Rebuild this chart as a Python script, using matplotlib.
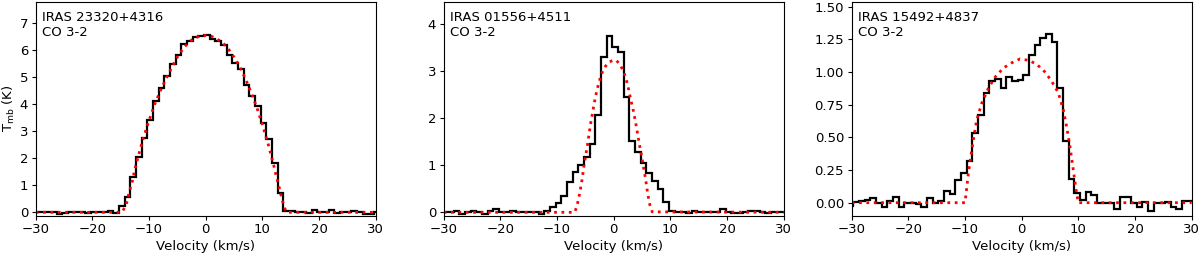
"""Three CO 3-2 spectra with shell-model fits, one panel per source."""

import matplotlib

matplotlib.use("Agg")

import matplotlib.pyplot as plt
import numpy as np
from matplotlib.ticker import MultipleLocator


SOURCES = ["IRAS 23320+4316", "IRAS 01556+4511", "IRAS 15492+4837"]
LINE_NAME = "CO 3-2"

# channel grid: 1 km/s channels, first edge per source
CHANNEL_START = [-30.3, -30.25, -30.7]
N_CHANNELS = 61

TMB_23320 = [
    0.01, 0.02, 0.02, 0.0, -0.05, -0.03, 0.02, 0.02, 0.0, -0.01,
    0.01, 0.01, 0.02, 0.04, -0.02,
    0.25, 0.56, 1.32, 2.06, 2.74, 3.40, 4.14, 4.62, 5.05, 5.48,
    5.83, 6.23, 6.36, 6.48, 6.53, 6.56, 6.42, 6.36, 6.20, 5.83,
    5.54, 5.30, 4.72, 4.31, 3.94, 3.32, 2.70, 1.84, 0.70,
    0.05, 0.03, 0.02, 0.0, -0.03, 0.10, 0.02, 0.02, 0.07, -0.03,
    0.01, 0.02, 0.04, 0.01, -0.07, -0.06, 0.0,
]
TMB_01556 = [
    0.01, 0.01, 0.035, -0.045, 0.0, 0.03, 0.0, -0.04, 0.03, 0.06,
    0.0, 0.0, 0.03, 0.0, 0.0, 0.0, 0.01, -0.03, 0.02,
    0.11, 0.19, 0.35, 0.64, 0.85, 1.00, 1.17, 1.44, 2.07, 3.29,
    3.75, 3.50, 3.40, 2.44, 1.52, 1.27, 1.05, 0.83, 0.67, 0.50,
    0.21, 0.03,
    0.0, 0.015, -0.02, 0.03, 0.0, 0.0, 0.01, 0.01, 0.06, 0.0,
    -0.015, -0.01, 0.0, 0.03, 0.02, 0.0, -0.015, 0.0, 0.0, 0.0,
]
TMB_15492 = [
    -0.025, 0.005, 0.015, 0.02, 0.035, 0.0, -0.03, 0.01, 0.045, -0.03,
    0.0, 0.0, -0.01, -0.035, 0.035, -0.005, 0.01, 0.087, 0.066, 0.17,
    0.23, 0.32,
    0.53, 0.67, 0.84, 0.93, 0.95, 0.88, 0.96, 0.93, 0.94, 0.98,
    1.13, 1.21, 1.26, 1.29, 1.23, 0.88, 0.47, 0.18, 0.077,
    0.02, 0.084, 0.06, 0.0, 0.0, 0.0, -0.05, 0.04, 0.04, -0.005,
    -0.035, 0.008, -0.06, 0.0, 0.0, 0.008, -0.03, -0.05, 0.01, 0.015,
]

FIT_V_23320 = [
    -30, -14.8, -14.5, -14.0, -13.5, -13.0, -12.5, -12, -11, -10, -9, -8,
    -7, -6, -5, -4, -3, -2, -1, 0, 1, 2, 3, 4, 5, 6, 7, 8, 9, 10, 11, 12,
    12.5, 13, 13.5, 14.0, 14.3, 30,
]
FIT_T_23320 = [
    0, 0, 0.1, 0.3, 0.75, 1.1, 1.6, 2.0, 2.75, 3.4, 4.0, 4.5,
    4.95, 5.35, 5.75, 6.05, 6.3, 6.45, 6.53, 6.55, 6.52, 6.42, 6.28, 6.05,
    5.75, 5.4, 4.95, 4.45, 3.9, 3.25, 2.55, 1.75,
    1.3, 0.9, 0.46, 0.12, 0, 0,
]
FIT_V_01556 = [
    -30, -6.9, -6.5, -6.0, -5.6, -5.3, -4.95, -4.6, -4.3, -4.0, -3.6,
    -3.3, -2.9, -2.5, -2.1, -1.5, -0.95, -0.05, 0.5, 1.1, 1.7, 2.2, 2.6,
    3.0, 3.5, 3.85, 4.2, 4.55, 4.95, 5.25, 5.65, 6.0, 6.4, 6.8, 30,
]
FIT_T_01556 = [
    0, 0, 0.12, 0.40, 0.68, 0.94, 1.20, 1.45, 1.70, 1.93, 2.20,
    2.40, 2.62, 2.80, 2.95, 3.09, 3.18, 3.23, 3.22, 3.14, 3.00, 2.83, 2.63,
    2.40, 2.14, 1.92, 1.68, 1.43, 1.18, 0.97, 0.69, 0.40, 0.15, 0.01, 0,
]
FIT_V_15492 = [
    -30, -10.0, -9.42, -9.0, -8.53, -7.95, -7.06, -5.89, -4.71, -3.24,
    -1.77, -0.30, 1.17, 2.64, 4.11, 5.29, 6.47, 7.35, 7.94, 8.52, 9.11,
    9.7, 10.0, 30,
]
FIT_T_15492 = [
    0, 0, 0.22, 0.35, 0.48, 0.63, 0.76, 0.875, 0.96, 1.03,
    1.07, 1.10, 1.09, 1.06, 1.0, 0.93, 0.84, 0.71, 0.58, 0.43, 0.25,
    0.07, 0, 0,
]

SPECTRA = [TMB_23320, TMB_01556, TMB_15492]
FIT_V = [FIT_V_23320, FIT_V_01556, FIT_V_15492]
FIT_T = [FIT_T_23320, FIT_T_01556, FIT_T_15492]

Y_LIMITS = [(-0.126, 7.8), (-0.072, 4.47), (-0.0995, 1.538)]
Y_STEP = [1, 1, 0.25]

AX_LEFT = [0.02975, 0.36975, 0.70975]
AX_BOTTOM = 0.1574
AX_WIDTH = 0.2833
AX_HEIGHT = 0.836

plt.rcParams["font.size"] = 9.5


def main() -> None:
    fig = plt.figure(figsize=(12, 2.56), dpi=100)
    for k, source in enumerate(SOURCES):
        ax = fig.add_axes([AX_LEFT[k], AX_BOTTOM, AX_WIDTH, AX_HEIGHT])
        edges = CHANNEL_START[k] + np.arange(N_CHANNELS + 1)
        ax.stairs(SPECTRA[k], edges, baseline=None, color="black", linewidth=1.6)
        ax.plot(FIT_V[k], FIT_T[k], color="red", linestyle=":", linewidth=2)

        ax.set_xlim(-30, 30)
        ax.set_ylim(*Y_LIMITS[k])
        ax.yaxis.set_major_locator(MultipleLocator(Y_STEP[k]))
        ax.tick_params(length=3, pad=2.5)
        ax.set_xlabel("Velocity (km/s)", labelpad=2.5)
        if k == 0:
            ax.set_ylabel(r"T$_{\rm mb}$ (K)", labelpad=2)
        ax.text(
            0.02,
            0.955,
            f"{source}\n{LINE_NAME}",
            transform=ax.transAxes,
            ha="left",
            va="top",
            fontsize=9.5,
        )

    fig.savefig("out.png", dpi=100)
    plt.close(fig)


if __name__ == "__main__":
    main()
